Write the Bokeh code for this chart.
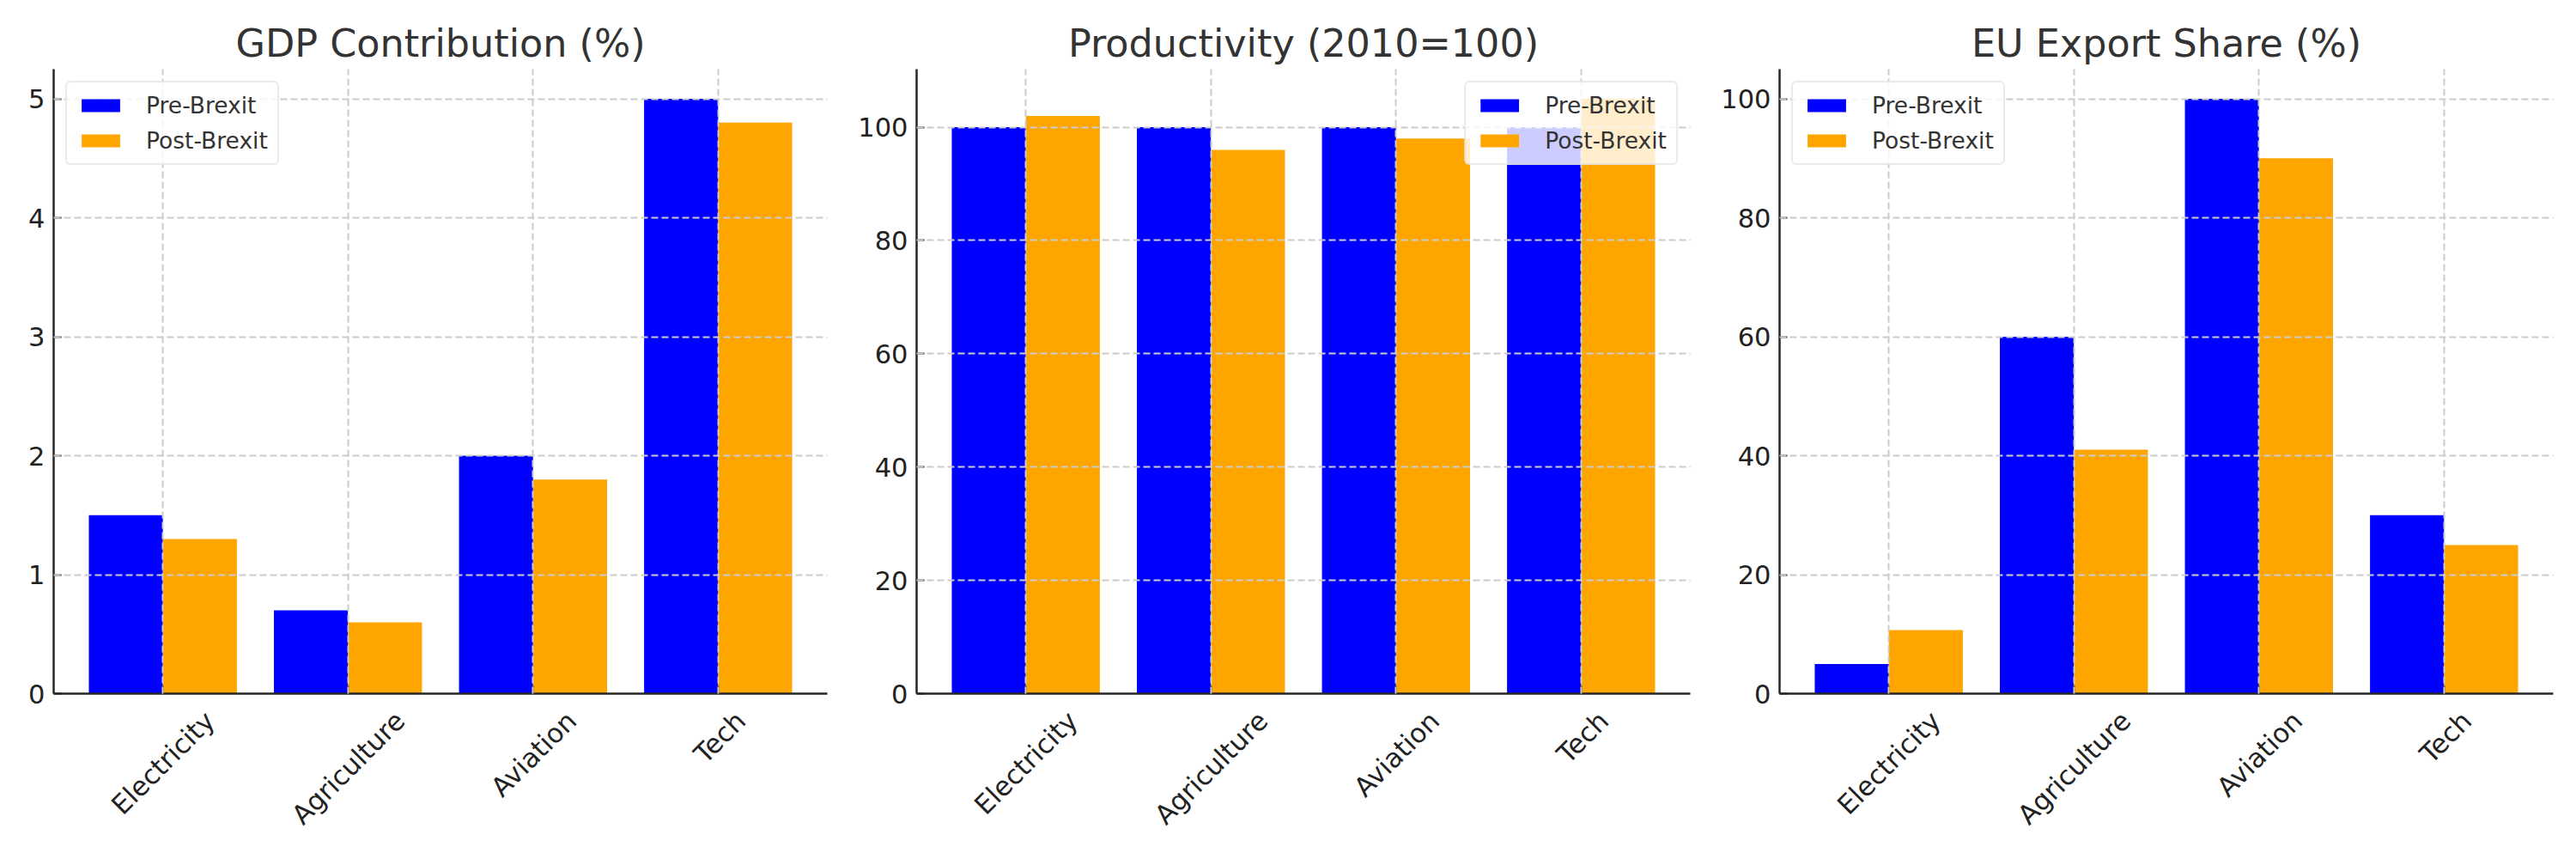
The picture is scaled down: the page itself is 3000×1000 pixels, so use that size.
import math
from bokeh.plotting import figure
from bokeh.models import (Range1d, FixedTicker, Legend, LegendItem,
                          ColumnDataSource, LinearAxis)
from bokeh.transform import dodge
from bokeh.layouts import row
from bokeh.embed import file_html
from bokeh.resources import INLINE

# ---------------- data ----------------
sectors = ["Electricity", "Agriculture", "Aviation", "Tech"]
series_names = ["Pre-Brexit", "Post-Brexit"]

gdp_pre = [1.5, 0.7, 2.0, 5.0]
gdp_post = [1.3, 0.6, 1.8, 4.8]

prod_pre = [100, 100, 100, 100]
prod_post = [102, 96, 98, 105]

export_pre = [5, 60, 100, 30]
export_post = [10.7, 41, 90, 25]

gdp_ticks = [0, 1, 2, 3, 4, 5]
prod_ticks = [0, 20, 40, 60, 80, 100]
export_ticks = [0, 20, 40, 60, 80, 100]

titles = ["GDP Contribution (%)", "Productivity (2010=100)", "EU Export Share (%)"]

# ---------------- style ----------------
FONT = "DejaVu Sans"
PRE_COLOR = "#0000ff"
POST_COLOR = "#ffa500"
SPINE = "#262626"
YTICK_FONT_PX = 30.5
XTICK_FONT_PX = 31
FRAME_W = 901
FRAME_H = 727
BAR_W = 0.4

# approximate DejaVu Sans advance widths (em) used to centre rotated labels
_W = {"E": .632, "l": .278, "e": .615, "c": .550, "t": .392, "r": .411, "i": .278,
      "y": .592, "A": .684, "g": .635, "u": .634, "a": .613, "v": .592, "o": .612,
      "n": .634, "T": .611, "h": .634}


def text_width(s, px):
    return sum(_W.get(ch, 0.6) for ch in s) * px


def make_panel(title, pre, post, yticks, legend_loc, border_left, border_right):
    idx = list(range(len(sectors)))
    src = ColumnDataSource(dict(idx=idx, pre=pre, post=post))
    lo, hi = -BAR_W, len(sectors) - 1 + BAR_W
    pad = 0.05 * (hi - lo)
    x_start, x_end = lo - pad, hi + pad
    ymax = 1.05 * max(max(pre), max(post))
    p = figure(x_range=Range1d(x_start, x_end), y_range=Range1d(0, ymax),
               frame_width=FRAME_W, frame_height=FRAME_H,
               min_border_left=border_left, min_border_right=border_right,
               min_border_top=80, min_border_bottom=170,
               output_backend="svg", toolbar_location=None, title=title)
    p.background_fill_color = "white"
    p.border_fill_color = "white"
    p.outline_line_color = None

    r1 = p.vbar(x=dodge("idx", -BAR_W / 2), top="pre", width=BAR_W,
                source=src, fill_color=PRE_COLOR, line_color=None)
    r2 = p.vbar(x=dodge("idx", BAR_W / 2), top="post", width=BAR_W,
                source=src, fill_color=POST_COLOR, line_color=None)

    # title
    p.title.text_font = FONT
    p.title.text_font_size = "44.5px"
    p.title.text_font_style = "normal"
    p.title.text_color = "#333333"
    p.title.align = "center"
    p.title.standoff = 9

    # axes
    xa = p.xaxis[0]
    xa.ticker = FixedTicker(ticks=idx)
    xa.major_label_overrides = {i: "" for i in idx}
    xa.major_label_text_font_size = "1px"
    xa.major_label_standoff = 0
    for ax in (xa, p.yaxis[0]):
        ax.axis_line_color = SPINE
        ax.axis_line_width = 2.5
        ax.major_tick_in = 9
        ax.major_tick_out = 0
        ax.major_tick_line_color = SPINE
        ax.major_tick_line_width = 2
        ax.minor_tick_line_color = None
    p.yaxis.ticker = FixedTicker(ticks=yticks)
    p.yaxis.major_label_text_font = FONT
    p.yaxis.major_label_text_font_size = f"{YTICK_FONT_PX}px"
    p.yaxis.major_label_text_color = "#222222"
    p.yaxis.major_label_standoff = 10

    # grids (drawn over the bars)
    for g in (p.xgrid[0], p.ygrid[0]):
        g.grid_line_color = "#cccccc"
        g.grid_line_dash = "8 4"
        g.grid_line_width = 2
        g.level = "guide"

    # rotated category labels: a second, line-less axis whose label anchors are
    # moved so each rotated label is centred on its category (matplotlib style)
    px_per_unit = FRAME_W / (x_end - x_start)
    lab_pos = [round(i + 0.3536 * text_width(s, XTICK_FONT_PX) / px_per_unit, 5)
               for i, s in zip(idx, sectors)]
    lab_axis = LinearAxis(ticker=FixedTicker(ticks=lab_pos),
                          major_label_overrides={pos: s for pos, s in zip(lab_pos, sectors)})
    lab_axis.axis_line_color = None
    lab_axis.major_tick_line_color = None
    lab_axis.minor_tick_line_color = None
    lab_axis.major_tick_out = 0
    lab_axis.major_tick_in = 0
    lab_axis.major_label_orientation = math.pi / 4
    lab_axis.major_label_standoff = 26
    lab_axis.major_label_text_font = FONT
    lab_axis.major_label_text_font_size = f"{XTICK_FONT_PX}px"
    lab_axis.major_label_text_color = "#222222"
    p.add_layout(lab_axis, "below")

    legend = Legend(items=[LegendItem(label=series_names[0], renderers=[r1]),
                           LegendItem(label=series_names[1], renderers=[r2])],
                    location=legend_loc)
    legend.label_text_font = FONT
    legend.label_text_font_size = "26.5px"
    legend.label_text_color = "#333333"
    legend.glyph_width = 56
    legend.glyph_height = 19
    legend.label_standoff = 25
    legend.padding = 11
    legend.spacing = 10
    legend.margin = 14
    legend.background_fill_color = "white"
    legend.background_fill_alpha = 0.8
    legend.border_line_color = "#d5d5d5"
    legend.border_line_width = 2.5
    if "border_radius" in Legend.properties():
        legend.border_radius = 6
    p.add_layout(legend)
    return p


p1 = make_panel(titles[0], gdp_pre, gdp_post, gdp_ticks, "top_left", 62, 33)
p2 = make_panel(titles[1], prod_pre, prod_post, prod_ticks, "top_right", 70, 33)
p3 = make_panel(titles[2], export_pre, export_post, export_ticks, "top_left", 70, 12)

layout = row(p1, p2, p3)
open("out.html", "w").write(file_html(layout, INLINE))
